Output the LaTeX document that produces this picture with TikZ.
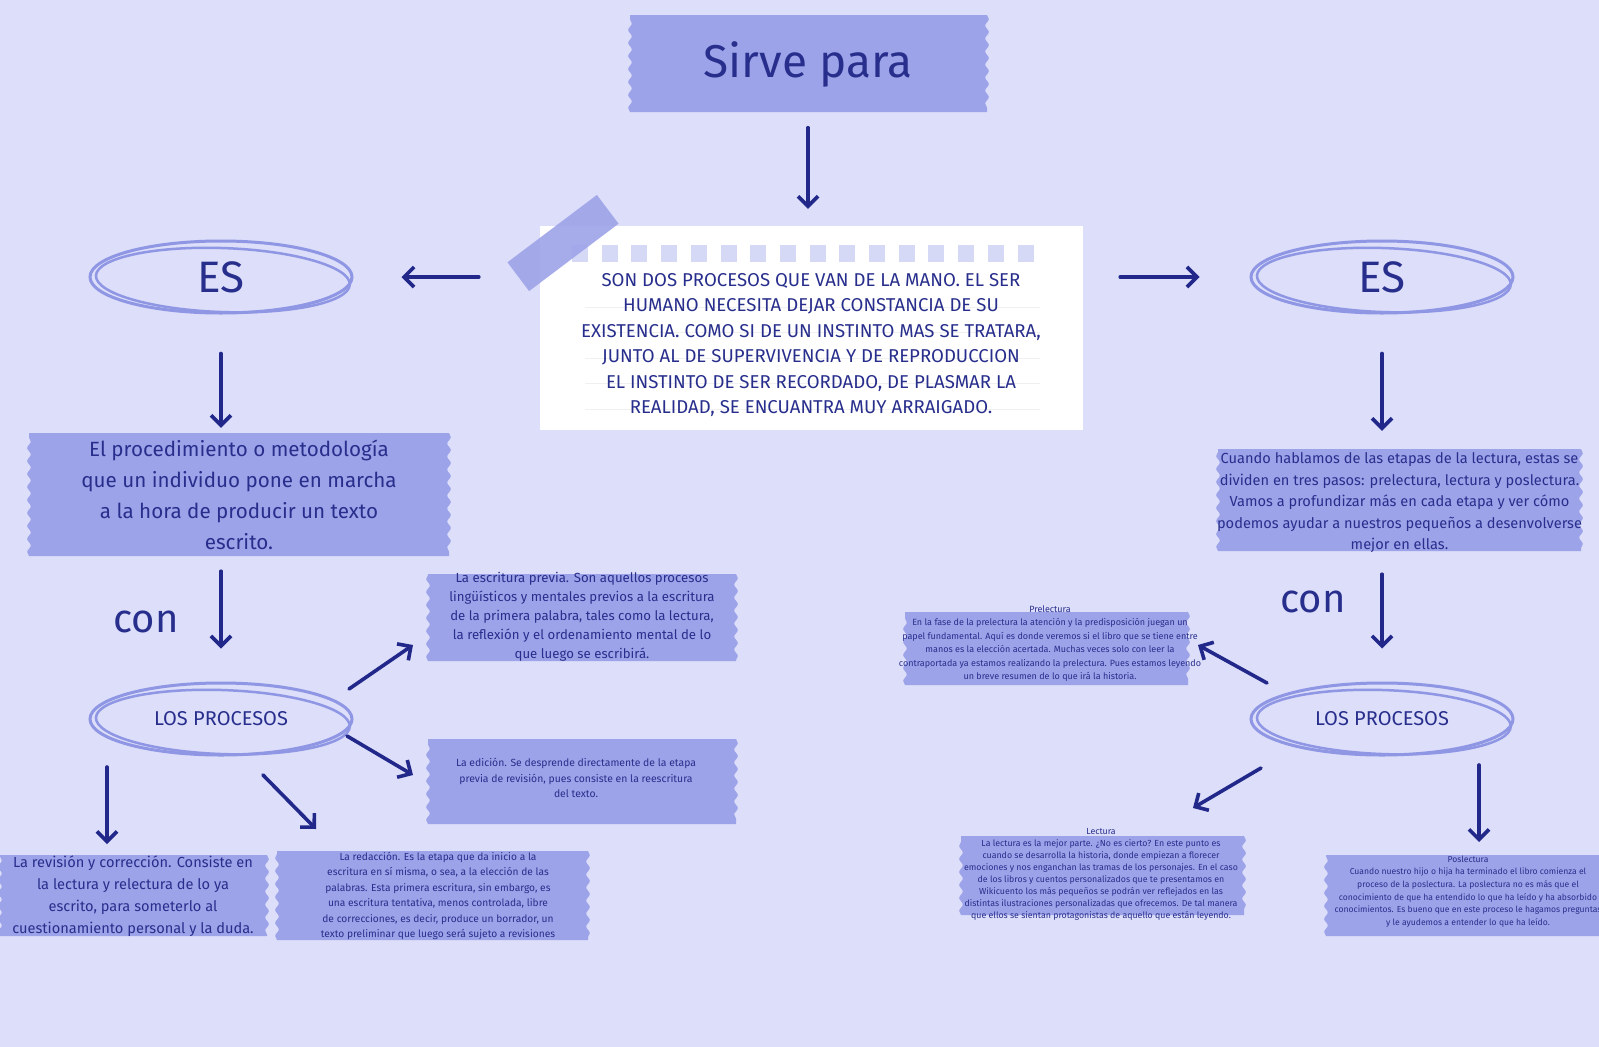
\documentclass[tikz,border=0pt]{standalone}
\usepackage{fontspec}
\setmainfont{Fira Sans}
\usetikzlibrary{arrows.meta,shapes.geometric,decorations.pathmorphing}

\definecolor{bgc}{RGB}{220,222,250}
\definecolor{tapec}{RGB}{157,163,232}
\definecolor{ringc}{RGB}{143,150,227}
\definecolor{inkc}{RGB}{40,46,140}
\definecolor{arrowc}{RGB}{33,40,138}
\definecolor{sqc}{RGB}{214,217,245}

% torn tape strip with wavy ends
\newcommand{\tapebox}[4]{\fill[tapec,decoration={snake,amplitude=1.8pt,segment length=13pt}]
  (#1,#2) -- (#3,#2) decorate{-- (#3,#4)} -- (#1,#4) decorate{-- (#1,#2)};}
\newcommand{\fs}[2]{\fontsize{#1}{#2}\selectfont}

\begin{document}
\begin{tikzpicture}[x=1pt, y=-1pt,
    txt/.style={text=inkc, align=center, inner sep=0pt},
    ringnode/.style={ellipse, draw=ringc, line width=3pt, minimum width=262pt,
        minimum height=72pt, inner sep=0pt, text=inkc},
    ring/.style={draw=ringc, line width=2.5pt},
    arr/.style={draw=arrowc, line width=3.6pt, line cap=round,
        -{Straight Barb[length=10pt,width=20pt,line width=3.6pt]}}]
        % Draw page
        \fill[bgc] (0,0) rectangle (1599,1047);
        \useasboundingbox (0,0) rectangle (1599,1047);

        % Draw title
        \tapebox{630}{15}{987}{112}
        \node[txt, minimum width=357pt, minimum height=97pt, font=\fs{46}{46}] (title) at (808,64) {Sirve para};

        % Draw note card
        \node[fill=white, minimum width=543pt, minimum height=204pt] (note) at (811.5,328) {};
        \foreach \i in {0,...,15}
        \fill[sqc] ({572+29.7*\i},245) rectangle ++(16,17);
        \foreach \y in {307,332,358,383,409}
        \draw[black!6, line width=1pt] (585,\y) -- (1040,\y);
        \node[fill=tapec, opacity=.9, minimum width=112pt, minimum height=36pt, rotate=37] (clip) at (563,243) {};
        \node[txt, font=\fs{18.6}{25.5}] (notetext) at (811,345) {SON DOS PROCESOS QUE VAN DE LA MANO. EL SER\\
        HUMANO NECESITA DEJAR CONSTANCIA DE SU\\
        EXISTENCIA. COMO SI DE UN INSTINTO MAS SE TRATARA,\\
        JUNTO AL DE SUPERVIVENCIA Y DE REPRODUCCION\\
        EL INSTINTO DE SER RECORDADO, DE PLASMAR LA\\
        REALIDAD, SE ENCUANTRA MUY ARRAIGADO.};

        % Draw rings
        \node[ringnode, font=\fs{44}{44}] (esl) at (221,277) {ES};
        \node[ringnode, font=\fs{44}{44}] (esr) at (1382,277) {ES};
        \node[ringnode, font=\fs{20}{20}] (lpl) at (221,719) {LOS PROCESOS};
        \node[ringnode, font=\fs{20}{20}] (lpr) at (1382,719) {LOS PROCESOS};
        \foreach \n in {esl,esr,lpl,lpr}
        \draw[ring, rotate around={-2:(\n.center)}] ([shift={(2,3)}]\n.center) ellipse [x radius=127, y radius=32];

        % Left branch
        \tapebox{29}{433}{449}{556}
        \node[txt, minimum width=420pt, minimum height=123pt, font=\fs{20.6}{31}] (descl) at (239,494.5) {El procedimiento o metodología\\
        que un individuo pone en marcha\\
        a la hora de producir un texto\\
        escrito.};
        \node[txt, font=\fs{40}{40}] (conl) at (146,622) {con};

        \tapebox{428}{574}{736}{661}
        \node[txt, font=\fs{13.2}{19}] (previa) at (582,617) {La escritura previa. Son aquellos procesos\\
        lingüísticos y mentales previos a la escritura\\
        de la primera palabra, tales como la lectura,\\
        la reflexión y el ordenamiento mental de lo\\
        que luego se escribirá.};
        \tapebox{428}{739}{736}{824}
        \node[txt, font=\fs{10.4}{15.8}] (edicion) at (576,778) {La edición. Se desprende directamente de la etapa\\
        previa de revisión, pues consiste en la reescritura\\
        del texto.};
        \tapebox{0}{855}{267}{936}
        \node[txt, font=\fs{14.6}{22}] (revision) at (133,896) {La revisión y corrección. Consiste en\\
        la lectura y relectura de lo ya\\
        escrito, para someterlo al\\
        cuestionamiento personal y la duda.};
        \tapebox{277}{851}{588}{940}
        \node[txt, font=\fs{10.2}{15.5}] (redaccion) at (438,896) {La redacción. Es la etapa que da inicio a la\\
        escritura en sí misma, o sea, a la elección de las\\
        palabras. Esta primera escritura, sin embargo, es\\
        una escritura tentativa, menos controlada, libre\\
        de correcciones, es decir, produce un borrador, un\\
        texto preliminar que luego será sujeto a revisiones};

        % Right branch
        \tapebox{1218}{449}{1581}{551}
        \node[txt, minimum width=363pt, minimum height=102pt, font=\fs{14.6}{21.5}] (descr) at (1399.5,503) {Cuando hablamos de las etapas de la lectura, estas se\\
        dividen en tres pasos: prelectura, lectura y poslectura.\\
        Vamos a profundizar más en cada etapa y ver cómo\\
        podemos ayudar a nuestros pequeños a desenvolverse\\
        mejor en ellas.};
        \node[txt, font=\fs{40}{40}] (conr) at (1313,602) {con};

        \tapebox{905}{612}{1188}{685}
        \node[txt, font=\fs{9}{13.4}] (prelec) at (1050,643.5) {Prelectura\\
        En la fase de la prelectura la atención y la predisposición juegan un\\
        papel fundamental. Aquí es donde veremos si el libro que se tiene entre\\
        manos es la elección acertada. Muchas veces solo con leer la\\
        contraportada ya estamos realizando la prelectura. Pues estamos leyendo\\
        un breve resumen de lo que irá la historia.};
        \tapebox{961}{836}{1244}{915}
        \node[txt, font=\fs{8.8}{12.1}] (lec) at (1101,874.5) {Lectura\\
        La lectura es la mejor parte. ¿No es cierto? En este punto es\\
        cuando se desarrolla la historia, donde empiezan a florecer\\
        emociones y nos enganchan las tramas de los personajes. En el caso\\
        de los libros y cuentos personalizados que te presentamos en\\
        Wikicuento los más pequeños se podrán ver reflejados en las\\
        distintas ilustraciones personalizadas que ofrecemos. De tal manera\\
        que ellos se sientan protagonistas de aquello que están leyendo.};
        \tapebox{1326}{855}{1610}{936}
        \node[txt, font=\fs{8.6}{12.6}] (poslec) at (1468,891.5) {Poslectura\\
        Cuando nuestro hijo o hija ha terminado el libro comienza el\\
        proceso de la poslectura. La poslectura no es más que el\\
        conocimiento de que ha entendido lo que ha leído y ha absorbido\\
        conocimientos. Es bueno que en este proceso le hagamos preguntas\\
        y le ayudemos a entender lo que ha leído.};

        % Draw arrows
        \draw[arr, shorten <=15pt, shorten >=17pt] (title.south) -- (title.south |- note.north);
        \draw[arr, shorten <=61pt, shorten >=48pt] (note.west |- esl) -- (esl.east);
        \draw[arr, shorten <=37pt, shorten >=50pt] (note.east |- esr) -- (esr.west);
        \draw[arr, shorten <=39pt, shorten >=5pt] (esl.south) -- (esl |- descl.north);
        \draw[arr, shorten <=15pt, shorten >=33pt] (esl |- descl.south) -- (lpl.north);
        \draw[arr, shorten <=39pt, shorten >=21pt] (esr.south) -- (esr |- descr.north);
        \draw[arr, shorten <=20pt, shorten >=33pt] (esr |- descr.south) -- (lpr.north);

        \coordinate (l1a) at (349,689); \coordinate (l1b) at (413,645);
        \coordinate (l2a) at (347,736); \coordinate (l2b) at (413,775);
        \coordinate (l3a) at (107,767); \coordinate (l3b) at (107,844);
        \coordinate (l4a) at (263,775); \coordinate (l4b) at (316,829);
        \coordinate (r1a) at (1267,683); \coordinate (r1b) at (1198,645);
        \coordinate (r2a) at (1261,768); \coordinate (r2b) at (1193,808);
        \coordinate (r3a) at (1479,765); \coordinate (r3b) at (1479,842);
        \foreach \a/\b in {l1a/l1b, l2a/l2b, l3a/l3b, l4a/l4b, r1a/r1b, r2a/r2b, r3a/r3b}
        \draw[arr] (\a) -- (\b);
    \end{tikzpicture}
\end{document}
